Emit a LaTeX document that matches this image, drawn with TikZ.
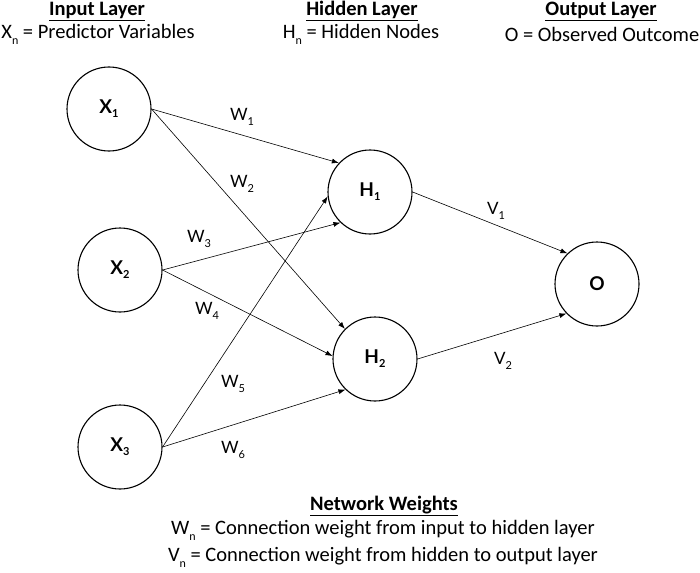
\documentclass[tikz,border=0pt]{standalone}
\usepackage{fontspec}
\setmainfont{Carlito}
\newfontfamily\lato{Lato}
\usetikzlibrary{arrows.meta}
\newcommand\mysub[3][11]{\raisebox{#2}{\fontsize{#1}{#1}\selectfont #3}}
\begin{document}
\begin{tikzpicture}[x=1pt,y=-1pt,
  neuron/.style={circle,draw,line width=1.1pt,minimum size=84pt,inner sep=0pt,font=\lato\fontsize{19}{19}\selectfont\bfseries},
  conn/.style={line width=0.6pt,-{Latex[length=7pt,width=5pt]}},
  wlab/.style={font=\lato\fontsize{17}{17}\selectfont},
  head/.style={font=\fontsize{20.5}{20.5}\selectfont\bfseries,inner sep=0pt},
  txt/.style={font=\fontsize{20.5}{20.5}\selectfont}]
\useasboundingbox (0,0) rectangle (700,572);
% nodes
\node[neuron] (x1) at (109,109) {X\mysub{-4pt}{1}};
\node[neuron] (x2) at (120,270) {X\mysub{-4pt}{2}};
\node[neuron] (x3) at (120,447) {X\mysub{-4pt}{3}};
\node[neuron] (h1) at (370,192) {H\mysub{-4pt}{1}};
\node[neuron] (h2) at (375,359) {H\mysub{-4pt}{2}};
\node[neuron] (o) at (597,284) {O};
% connections
\draw[conn] (x1.east) -- (h1.137);
\draw[conn] (x1.east) -- (h2.135);
\draw[conn] (x2.east) -- (h1.226);
\draw[conn] (x2.east) -- (h2.176);
\draw[conn] (x3.east) -- (h1.186);
\draw[conn] (x3.east) -- (h2.226);
\draw[conn] (h1.east) -- (o.134);
\draw[conn] (h2.east) -- (o.224);
% weight labels
\node[wlab] (w1) at (242,117) {W\mysub{-5pt}{1}};
\node[wlab] (w2) at (242,184) {W\mysub{-5pt}{2}};
\node[wlab] (w3) at (199,239) {W\mysub{-5pt}{3}};
\node[wlab] (w4) at (207,311) {W\mysub{-5pt}{4}};
\node[wlab] (w5) at (233,384) {W\mysub{-5pt}{5}};
\node[wlab] (w6) at (233,450) {W\mysub{-5pt}{6}};
\node[wlab] (v1) at (496,211) {V\mysub{-5pt}{1}};
\node[wlab] (v2) at (503,361) {V\mysub{-5pt}{2}};
% headers
\node[head,anchor=base] (hin) at (97,16) {\underline{Input Layer}};
\node[txt] (tin) at (98,34) {X\mysub[12]{-6pt}{n} = Predictor Variables};
\node[head,anchor=base] (hhid) at (362,16) {\underline{Hidden Layer}};
\node[txt] (thid) at (361,34) {H\mysub[12]{-6pt}{n} = Hidden Nodes};
\node[head,anchor=base] (hout) at (601,16) {\underline{Output Layer}};
\node[txt] (tout) at (602,34) {O = Observed Outcome};
% bottom legend
\node[head] (hnet) at (384,506) {\underline{Network Weights}};
\node[txt] (tw) at (383,530) {W\mysub[12]{-6pt}{n} = Connection weight from input to hidden layer};
\node[txt] (tv) at (383,557) {V\mysub[12]{-6pt}{n} = Connection weight from hidden to output layer};
\end{tikzpicture}
\end{document}
